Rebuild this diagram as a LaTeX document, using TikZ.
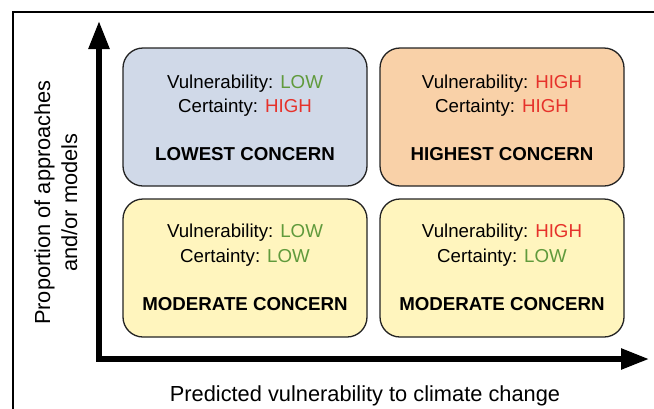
\documentclass[tikz,border=0pt]{standalone}
\usepackage{fontspec}
\setmainfont{Liberation Sans}
\usetikzlibrary{arrows.meta}
\definecolor{boxblue}{RGB}{208,217,232}
\definecolor{boxorange}{RGB}{249,209,168}
\definecolor{boxyellow}{RGB}{255,245,190}
\definecolor{lowgreen}{RGB}{96,154,60}
\definecolor{highred}{RGB}{230,50,43}
\definecolor{edgegray}{RGB}{35,35,35}
\begin{document}
\begin{tikzpicture}[x=1pt,y=-1pt,
  quad/.style={draw=edgegray, line width=1.3pt, rounded corners=20pt},
  boxtxt/.style={anchor=base, inner sep=0pt, font=\fontsize{18.7}{22}\selectfont},
  boxhead/.style={anchor=base, inner sep=0pt, font=\fontsize{18.7}{22}\selectfont\bfseries},
  axlab/.style={anchor=base, inner sep=0pt, font=\fontsize{21.8}{26}\selectfont},
  axis/.style={line width=5.5pt, {Triangle[length=28pt,width=20pt]}-{Triangle[length=28pt,width=20pt]}},
  frameline/.style={line width=1.3pt}]
\useasboundingbox (0,0) rectangle (654,408);
% frame
\coordinate (fr1) at (660,12);
\coordinate (fr2) at (13,12);
\coordinate (fr3) at (13,415);
\draw[frameline] (fr1) -- (fr2) -- (fr3);
% quadrants
\draw[quad, fill=boxblue] (123,48) rectangle (367,186);
\draw[quad, fill=boxorange] (380,48) rectangle (624,186);
\draw[quad, fill=boxyellow] (123,199) rectangle (367,337);
\draw[quad, fill=boxyellow] (380,199) rectangle (624,337);
% axes
\coordinate (ytip) at (99,21);
\coordinate (orig) at (99,359);
\coordinate (xtip) at (649,359);
\draw[axis] (ytip) -- (orig) -- (xtip);
% top-left
\node[boxtxt] (tlv) at (245,88.3) {Vulnerability: \textcolor{lowgreen}{LOW}};
\node[boxtxt] (tlc) at (245,112.7) {Certainty: \textcolor{highred}{HIGH}};
\node[boxhead] (tlh) at (245,160) {LOWEST CONCERN};
% top-right
\node[boxtxt] (trv) at (502,88.3) {Vulnerability: \textcolor{highred}{HIGH}};
\node[boxtxt] (trc) at (502,112.7) {Certainty: \textcolor{highred}{HIGH}};
\node[boxhead] (trh) at (502,160) {HIGHEST CONCERN};
% bottom-left
\node[boxtxt] (blv) at (245,237.5) {Vulnerability: \textcolor{lowgreen}{LOW}};
\node[boxtxt] (blc) at (245,262.5) {Certainty: \textcolor{lowgreen}{LOW}};
\node[boxhead] (blh) at (245,310) {MODERATE CONCERN};
% bottom-right
\node[boxtxt] (brv) at (502,237.5) {Vulnerability: \textcolor{highred}{HIGH}};
\node[boxtxt] (brc) at (502,262.5) {Certainty: \textcolor{lowgreen}{LOW}};
\node[boxhead] (brh) at (502,310) {MODERATE CONCERN};
% axis labels
\node[axlab, rotate=90] (yl1) at (50,202.5) {Proportion of approaches};
\node[axlab, rotate=90] (yl2) at (77,202.5) {and/or models};
\node[axlab] (xl) at (365,401) {Predicted vulnerability to climate change};
\end{tikzpicture}
\end{document}
